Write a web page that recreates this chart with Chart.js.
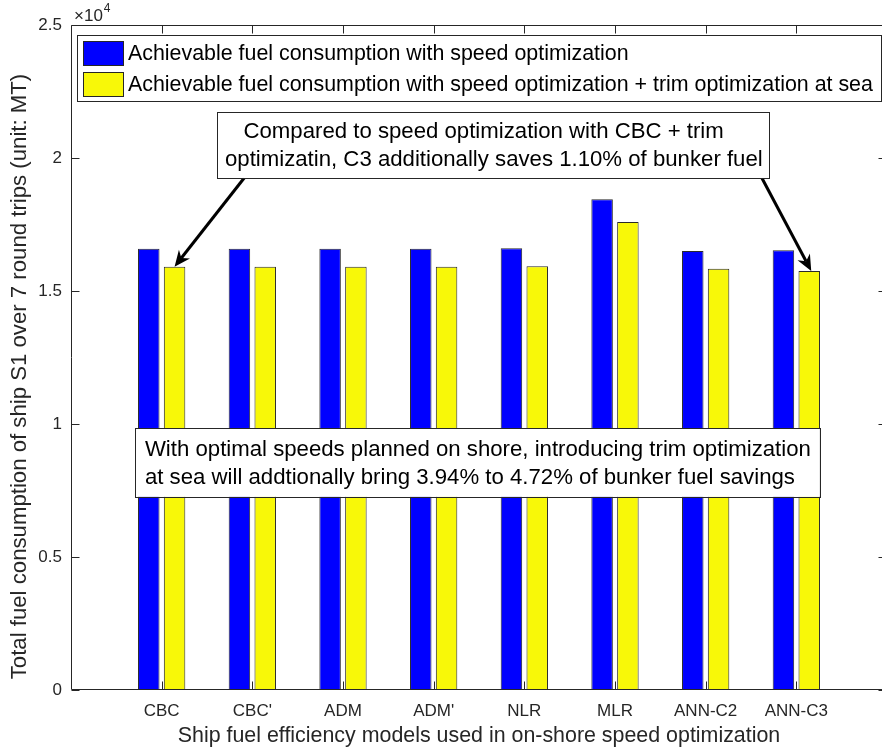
<!DOCTYPE html>
<html>
<head>
<meta charset="utf-8">
<script src="https://cdn.jsdelivr.net/npm/chart.js@4.4.0/dist/chart.umd.min.js"></script>
<style>
  html, body { margin: 0; padding: 0; background: #fff; overflow: hidden; width: 882px; height: 752px; }
  #wrap { position: relative; width: 892px; height: 752px; }
</style>
</head>
<body>
<div id="wrap"><canvas id="c" width="892" height="752"></canvas></div>
<script>
// Fuel consumption of ship S1 over 7 round trips (MT), per fuel-efficiency model
const categories = ['CBC', "CBC'", 'ADM', "ADM'", 'NLR', 'MLR', 'ANN-C2', 'ANN-C3'];
const speedOnly = [16590, 16590, 16590, 16590, 16604, 18447, 16504, 16530];
const speedPlusTrim = [15914, 15914, 15914, 15914, 15928, 17594, 15838, 15752];
const seriesNames = [
  'Achievable fuel consumption with speed optimization',
  'Achievable fuel consumption with speed optimization + trim optimization at sea'
];
const seriesColors = ['#0000ff', '#f8f808'];
const yTickValues = [0, 5000, 10000, 15000, 20000, 25000];
const yTickLabels = ['0', '0.5', '1', '1.5', '2', '2.5'];
const xTitle = 'Ship fuel efficiency models used in on-shore speed optimization';
const yTitle = 'Total fuel consumption of ship S1 over 7 round trips (unit: MT)';
const noteTop = ['   Compared to speed optimization with CBC + trim',
                 'optimizatin, C3 additionally saves 1.10% of bunker fuel'];
const noteMid = ['With optimal speeds planned on shore, introducing trim optimization',
                 'at sea will addtionally bring 3.94% to 4.72% of bunker fuel savings'];

const AX = '#262626';
const FONT = '"Liberation Sans", Arial, Helvetica, sans-serif';

function toPoints(values) {
  return values.map((v, i) => ({ x: i + 1, y: v }));
}

// Axes box, inward tick marks, the x10^4 exponent label and the y-axis title
const framePlugin = {
  id: 'frame',
  afterDatasetsDraw(chart) {
    const { ctx, chartArea: a, scales: { x, y } } = chart;
    ctx.save();
    ctx.strokeStyle = AX;
    ctx.lineWidth = 1;
    ctx.beginPath();
    const L = Math.round(a.left) + 0.5, R = Math.round(a.right) - 0.5;
    const T = Math.round(a.top) + 0.5, B = Math.round(a.bottom) - 0.5;
    ctx.moveTo(L, T); ctx.lineTo(R, T); ctx.lineTo(R, B); ctx.lineTo(L, B); ctx.closePath();
    const tl = 8;
    yTickValues.forEach(v => {
      const py = Math.round(y.getPixelForValue(v)) + 0.5;
      ctx.moveTo(L, py); ctx.lineTo(L + tl, py);
      ctx.moveTo(R, py); ctx.lineTo(R - tl, py);
    });
    categories.forEach((c, i) => {
      const px = Math.round(x.getPixelForValue(i + 1)) + 0.5;
      ctx.moveTo(px, B); ctx.lineTo(px, B - tl);
      ctx.moveTo(px, T); ctx.lineTo(px, T + tl);
    });
    ctx.stroke();

    ctx.fillStyle = AX;
    ctx.textBaseline = 'middle';
    ctx.textAlign = 'left';
    ctx.font = '17px ' + FONT;
    ctx.fillText('\u00d710', a.left + 3, a.top - 9);
    const w = ctx.measureText('\u00d710').width;
    ctx.font = '12px ' + FONT;
    ctx.fillText('4', a.left + 3 + w + 1, a.top - 16);

    // y-axis title, rotated
    ctx.translate(20, (a.top + a.bottom) / 2 + 19);
    ctx.rotate(-Math.PI / 2);
    ctx.textAlign = 'center';
    ctx.font = '22.2px ' + FONT;
    ctx.fillText(yTitle, 0, 0);
    ctx.restore();
  }
};

function drawNote(ctx, x, y, lines, box) {
  const left = x.getPixelForValue(box.x0), right = x.getPixelForValue(box.x1);
  const top = y.getPixelForValue(box.y1), bottom = y.getPixelForValue(box.y0);
  ctx.fillStyle = '#fff';
  ctx.fillRect(left, top, right - left, bottom - top);
  ctx.strokeStyle = AX;
  ctx.lineWidth = 1;
  ctx.strokeRect(Math.round(left) + 0.5, Math.round(top) + 0.5, Math.round(right - left), Math.round(bottom - top));
  ctx.fillStyle = '#000';
  ctx.font = '22.2px ' + FONT;
  ctx.textAlign = 'left';
  ctx.textBaseline = 'middle';
  const lh = 28;
  const cy = (top + bottom) / 2 + 1;
  lines.forEach((t, i) => {
    ctx.fillText(t, left + box.pad, cy + (i - (lines.length - 1) / 2) * lh);
  });
}

function drawArrow(ctx, fx, fy, tx, ty) {
  const ang = Math.atan2(ty - fy, tx - fx);
  const headLen = 16, headHalf = 7, back = 5;
  ctx.strokeStyle = '#000';
  ctx.fillStyle = '#000';
  ctx.lineWidth = 3;
  ctx.lineCap = 'butt';
  ctx.beginPath();
  ctx.moveTo(fx, fy);
  ctx.lineTo(tx - Math.cos(ang) * (headLen - back), ty - Math.sin(ang) * (headLen - back));
  ctx.stroke();
  const bx = tx - Math.cos(ang) * headLen, by = ty - Math.sin(ang) * headLen;
  const nx = -Math.sin(ang), ny = Math.cos(ang);
  ctx.beginPath();
  ctx.moveTo(tx, ty);
  ctx.lineTo(bx + nx * headHalf, by + ny * headHalf);
  ctx.lineTo(tx - Math.cos(ang) * (headLen - back), ty - Math.sin(ang) * (headLen - back));
  ctx.lineTo(bx - nx * headHalf, by - ny * headHalf);
  ctx.closePath();
  ctx.fill();
}

// Legend box inside the axes plus the two text annotations with arrows
const overlayPlugin = {
  id: 'overlay',
  afterDraw(chart) {
    const { ctx, chartArea: a, scales: { x, y } } = chart;
    ctx.save();
    // legend
    const lx = a.left + 6, ly = a.top + 10, lw = a.right - 6 - lx, lhgt = 66;
    ctx.fillStyle = '#fff';
    ctx.fillRect(lx, ly, lw, lhgt);
    ctx.strokeStyle = AX;
    ctx.lineWidth = 1;
    ctx.strokeRect(Math.round(lx) + 0.5, Math.round(ly) + 0.5, Math.round(lw), lhgt);
    ctx.font = '21.4px ' + FONT;
    ctx.textBaseline = 'middle';
    ctx.textAlign = 'left';
    chart.data.datasets.forEach((ds, i) => {
      const rowY = ly + 18 + i * 31;
      ctx.fillStyle = ds.backgroundColor;
      ctx.fillRect(lx + 6, rowY - 12, 40, 24);
      ctx.strokeStyle = AX;
      ctx.strokeRect(Math.round(lx + 6) + 0.5, Math.round(rowY - 12) + 0.5, 40, 24);
      ctx.fillStyle = '#000';
      ctx.fillText(ds.label, lx + 51, rowY + 1);
    });

    // arrows from the upper note to the CBC and ANN-C3 trim bars
    const bars = chart.getDatasetMeta(1).data;
    const tipL = bars[0], tipR = bars[7];
    drawArrow(ctx, x.getPixelForValue(1.91), y.getPixelForValue(19250), tipL.x, tipL.y);
    drawArrow(ctx, x.getPixelForValue(7.62), y.getPixelForValue(19250), tipR.x + 2, tipR.y);

    drawNote(ctx, x, y, noteTop, { x0: 1.61, x1: 7.70, y0: 19250, y1: 21730, pad: 8 });
    drawNote(ctx, x, y, noteMid, { x0: 0.705, x1: 8.26, y0: 7260, y1: 9850, pad: 10 });
    ctx.restore();
  }
};

new Chart(document.getElementById('c'), {
  type: 'bar',
  data: {
    datasets: [
      { label: seriesNames[0], data: toPoints(speedOnly), backgroundColor: seriesColors[0],
        borderColor: '#2a2a2a', borderWidth: 1, borderSkipped: false },
      { label: seriesNames[1], data: toPoints(speedPlusTrim), backgroundColor: seriesColors[1],
        borderColor: '#2a2a2a', borderWidth: 1, borderSkipped: false }
    ]
  },
  options: {
    responsive: false,
    animation: false,
    devicePixelRatio: 1,
    layout: { padding: { top: 25, right: 5, left: 0, bottom: 0 } },
    plugins: { legend: { display: false }, tooltip: { enabled: false } },
    datasets: { bar: { categoryPercentage: 0.569, barPercentage: 0.833 } },
    scales: {
      x: {
        type: 'linear', min: 0, max: 9, offset: false,
        grid: { display: false, drawTicks: false },
        border: { display: false },
        afterFit(s) { s.height = 62; },
        afterBuildTicks(s) { s.ticks = categories.map((c, i) => ({ value: i + 1 })); },
        ticks: {
          padding: 11, color: AX, font: { family: FONT, size: 17 }, maxRotation: 0, autoSkip: false,
          callback: (v) => categories[v - 1] || ''
        },
        title: { display: true, text: xTitle, color: AX, font: { family: FONT, size: 21.4, lineHeight: 1.2 },
                 padding: { top: 3, bottom: 3 } }
      },
      y: {
        min: 0, max: 25000,
        grid: { display: false, drawTicks: false },
        border: { display: false },
        afterFit(s) { s.width = 71; },
        afterBuildTicks(s) { s.ticks = yTickValues.map(v => ({ value: v })); },
        ticks: {
          padding: 9, color: AX, font: { family: FONT, size: 17 },
          callback: (v) => yTickLabels[yTickValues.indexOf(v)]
        },
        title: { display: false }
      }
    }
  },
  plugins: [framePlugin, overlayPlugin]
});
</script>
</body>
</html>
